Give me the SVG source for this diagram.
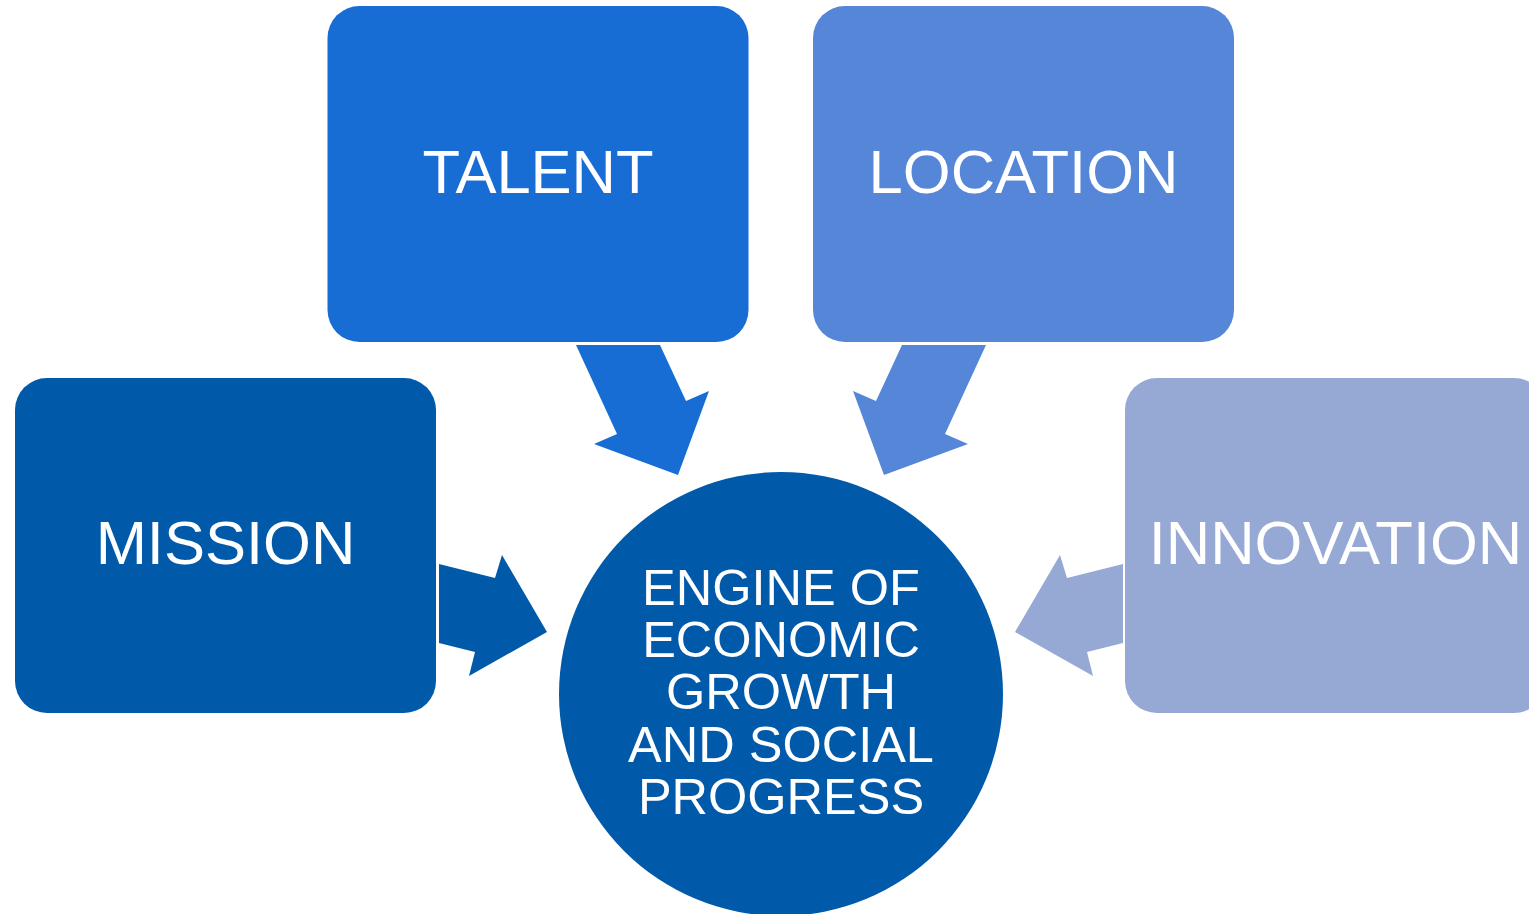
<svg xmlns="http://www.w3.org/2000/svg" width="1529" height="914" viewBox="0 0 1529 914">
<style>
  .lbl { font-family: "Liberation Sans", Arial, sans-serif; fill: #FFFFFF; text-anchor: middle; }
  .box { font-size: 61.5px; }
  .ctr { font-size: 50.5px; }
</style>
<rect width="1529" height="914" fill="#FFFFFF"/>
<g id="connectors">
  <polygon fill="#186DD5" points="576,345 660,345 686,401 709,391 678,475 594,444 617,434"/>
  <polygon fill="#5686D7" points="986,345 902,345 876,401 853,391 884,475 968,444 945,434"/>
  <polygon fill="#0159A9" points="439,564 495,578 502,555 547,632 469,676 475,652 439,643"/>
  <polygon fill="#96A9D4" points="1123,564 1067,578 1060,555 1015,632 1093,676 1087,652 1123,643"/>
</g>
<g id="talent">
  <rect x="327.5" y="6" width="421" height="336" rx="32" fill="#186DD5"/>
  <text class="lbl box" x="538" y="192.5">TALENT</text>
</g>
<g id="location">
  <rect x="813" y="6" width="421" height="336" rx="32" fill="#5686D7"/>
  <text class="lbl box" x="1023.5" y="192.5">LOCATION</text>
</g>
<g id="mission">
  <rect x="15" y="378" width="421" height="335" rx="32" fill="#0159A9"/>
  <text class="lbl box" x="225.5" y="564">MISSION</text>
</g>
<g id="innovation">
  <rect x="1125" y="378" width="421" height="335" rx="32" fill="#96A9D4"/>
  <text class="lbl box" x="1335.5" y="564">INNOVATION</text>
</g>
<g id="engine">
  <circle cx="781" cy="694" r="222" fill="#0159A9"/>
  <text class="lbl ctr" x="781" y="605">ENGINE OF</text>
  <text class="lbl ctr" x="781" y="657">ECONOMIC</text>
  <text class="lbl ctr" x="781" y="709">GROWTH</text>
  <text class="lbl ctr" x="781" y="762">AND SOCIAL</text>
  <text class="lbl ctr" x="781" y="814">PROGRESS</text>
</g>
</svg>
